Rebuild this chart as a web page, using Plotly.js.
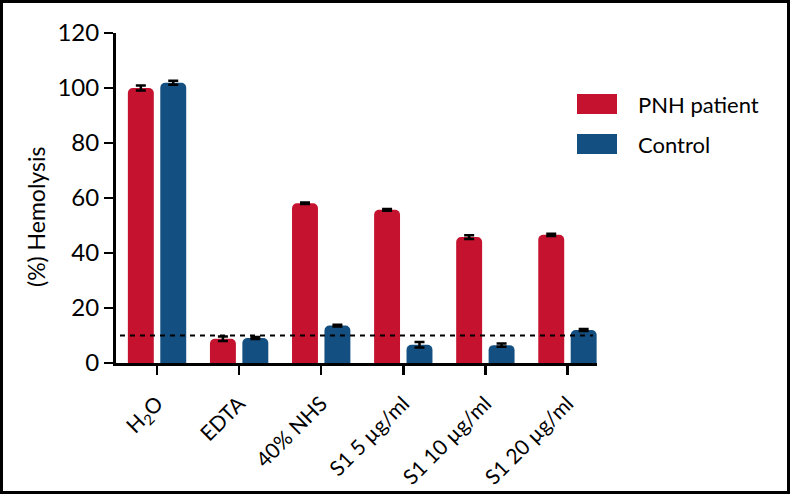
<!DOCTYPE html>
<html>
<head>
<meta charset="utf-8">
<script src="https://cdn.plot.ly/plotly-3.0.1.min.js"></script>
<style>
  html, body { margin: 0; padding: 0; background: #fff; }
  #wrap { position: relative; width: 790px; height: 494px; }
  #chart { position: absolute; left: 0; top: 0; width: 790px; height: 494px; }
  #frame { position: absolute; left: 0; top: 0; width: 790px; height: 494px; box-sizing: border-box; border: 3px solid #000; pointer-events: none; }
</style>
</head>
<body>
<div id="wrap"><div id="chart"></div><div id="frame"></div></div>
<script>
// ---- data ----
const categories = ["H<sub>2</sub>O", "EDTA", "40% NHS", "S1 5 µg/ml", "S1 10 µg/ml", "S1 20 µg/ml"];
const seriesNames = ["PNH patient", "Control"];
const pnhValues = [100, 8.8, 58.1, 55.7, 45.8, 46.6];
const pnhErrors = [0.9, 0.8, 0.3, 0.3, 0.7, 0.4];
const controlValues = [101.9, 9.1, 13.6, 6.6, 6.5, 12.0];
const controlErrors = [0.7, 0.4, 0.3, 1.0, 0.6, 0.4];
const threshold = 10;
const yTicks = [0, 20, 40, 60, 80, 100, 120];
const yTitle = "(%) Hemolysis";

const RED = "#C5122F";
const BLUE = "#134F80";
const FONT = "Lato, 'Open Sans', sans-serif";

const errStyle = { type: "data", visible: true, color: "#000", thickness: 2.5, width: 5 };

const traces = [
  { type: "bar", name: seriesNames[0], x: categories, y: pnhValues,
    marker: { color: RED, line: { width: 0 } },
    error_y: Object.assign({ array: pnhErrors }, errStyle), showlegend: false },
  { type: "bar", name: seriesNames[1], x: categories, y: controlValues,
    marker: { color: BLUE, line: { width: 0 } },
    error_y: Object.assign({ array: controlErrors }, errStyle), showlegend: false }
];

// plot area geometry (used for legend/title placement in paper coords)
const L = 116, R = 193, T = 33, B = 131, W = 790, H = 494;
const pw = W - L - R, ph = H - T - B;
const px = v => (v - L) / pw;
const py = v => (H - B - v) / ph;

const legendColors = [RED, BLUE];
const legendRows = [104, 144];
const shapes = [
  { type: "line", xref: "paper", yref: "y", x0: px(120), x1: px(593), y0: threshold, y1: threshold,
    line: { color: "#000", width: 2.2, dash: "5px,5px" }, layer: "above" }
];
const annotations = [
  { xref: "paper", yref: "paper", x: px(36), y: py(217), xanchor: "center", yanchor: "middle",
    textangle: -90, text: yTitle, showarrow: false,
    font: { family: FONT, size: 23, color: "#000" } }
];
seriesNames.forEach((n, i) => {
  const cy = legendRows[i];
  shapes.push({ type: "rect", xref: "paper", yref: "paper",
    x0: px(577), x1: px(617), y0: py(cy + 10), y1: py(cy - 10),
    fillcolor: legendColors[i], line: { width: 0 } });
  annotations.push({ xref: "paper", yref: "paper", x: px(636), y: py(cy),
    xanchor: "left", yanchor: "middle", text: n, showarrow: false,
    font: { family: FONT, size: 22, color: "#000" } });
});

const layout = {
  width: W, height: H,
  margin: { l: L, r: R, t: T, b: B, pad: 0 },
  paper_bgcolor: "#fff", plot_bgcolor: "#fff",
  font: { family: FONT, color: "#000" },
  barmode: "group", bargap: 0.21, bargroupgap: 0.2, barcornerradius: 5,
  xaxis: {
    type: "category", range: [-0.5, 5.36],
    showline: true, linecolor: "#000", linewidth: 3,
    ticks: "outside", ticklen: 9, tickwidth: 2.5, tickcolor: "#000",
    tickangle: -45, ticklabelstandoff: 8,
    tickfont: { family: FONT, size: 21, color: "#000" },
    showgrid: false, zeroline: false, fixedrange: true
  },
  yaxis: {
    range: [0, 120], tickvals: yTicks, ticktext: yTicks.map(String),
    showline: true, linecolor: "#000", linewidth: 3,
    ticks: "outside", ticklen: 9, tickwidth: 2.5, tickcolor: "#000",
    tickfont: { family: FONT, size: 24, color: "#000" },
    showgrid: false, zeroline: false
  },
  shapes: shapes,
  annotations: annotations,
  showlegend: false
};

Plotly.newPlot("chart", traces, layout, { displayModeBar: false, staticPlot: true });
</script>
</body>
</html>
